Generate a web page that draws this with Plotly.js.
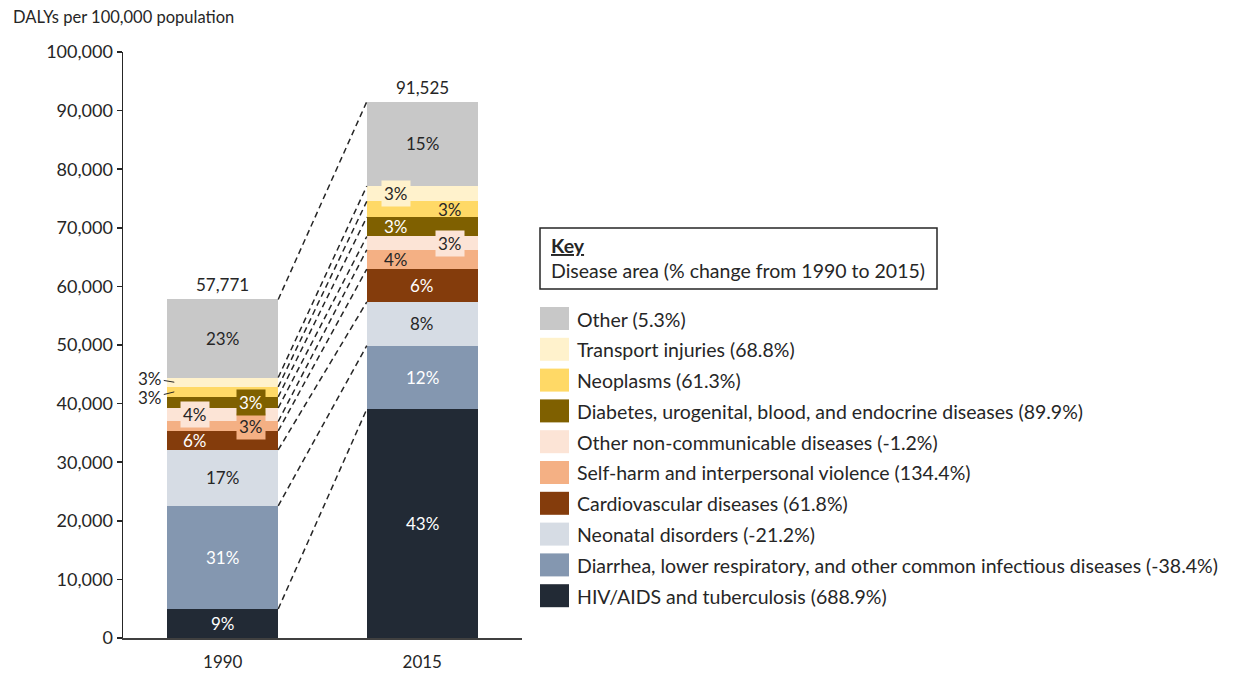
<!DOCTYPE html>
<html>
<head>
<meta charset="utf-8">
<script src="https://cdn.plot.ly/plotly-3.0.1.min.js"></script>
<style>html,body{margin:0;padding:0;background:#fff;}#chart{width:1238px;height:675px;}</style>
</head>
<body>
<div id="chart"></div>
<script>
// ---- data ----
const categories = ['1990', '2015'];
const causes = [
  'HIV/AIDS and tuberculosis',
  'Diarrhea, lower respiratory, and other common infectious diseases',
  'Neonatal disorders',
  'Cardiovascular diseases',
  'Self-harm and interpersonal violence',
  'Other non-communicable diseases',
  'Diabetes, urogenital, blood, and endocrine diseases',
  'Neoplasms',
  'Transport injuries',
  'Other'
];
const pctChange = ['688.9%', '-38.4%', '-21.2%', '61.8%', '134.4%', '-1.2%', '89.9%', '61.3%', '68.8%', '5.3%'];
const values1990 = [4950, 17600, 9550, 3250, 1600, 2300, 1900, 1700, 1600, 13321];
const values2015 = [39050, 10850, 7450, 5600, 3300, 2270, 3300, 2700, 2600, 14405];
const share1990 = ['9%', '31%', '17%', '6%', '3%', '4%', '3%', '3%', '3%', '23%'];
const share2015 = ['43%', '12%', '8%', '6%', '4%', '3%', '3%', '3%', '3%', '15%'];
const yTickVals = [0, 10000, 20000, 30000, 40000, 50000, 60000, 70000, 80000, 90000, 100000];

// ---- style ----
const colors = ['#222a35', '#8497b0', '#d6dce4', '#843c0c', '#f4b084', '#fce4d6', '#7f6000', '#ffd966', '#fff2cc', '#c8c8c8'];
const FONT = 'Lato, "Open Sans", sans-serif';
const DARK = '#262626';
const BW = 0.556;
const LABEL_SIZE = 17, LEGEND_SIZE = 19.5;
// label styles: [dx, textColor, box, arrow]
const style1990 = [
  [0, '#fff', false, null], [0, '#fff', false, null], [0, DARK, false, null],
  [-28, '#fff', false, null], [28, DARK, true, null], [-28, DARK, true, null],
  [28, '#fff', true, null], [0, DARK, false, [-24, 6]], [0, DARK, false, [-24, -4]],
  [0, DARK, false, null]
];
const style2015 = [
  [0, '#fff', false, null], [0, '#fff', false, null], [0, DARK, false, null],
  [0, '#fff', false, null], [-26, DARK, false, null], [28, DARK, true, null],
  [-26, '#fff', false, null], [28, DARK, false, null], [-26, DARK, true, null],
  [0, DARK, false, null]
];

const L = 123, T = 52, W = 399, H = 586;
const px = x => (x - L) / W;
const py = y => (T + H - y) / H;

const traces = causes.map((c, i) => ({
  type: 'bar',
  name: c,
  x: categories,
  y: [values1990[i], values2015[i]],
  marker: {color: colors[i], line: {width: 0}},
  width: BW,
  hoverinfo: 'name+y',
  showlegend: false
}));

function cum(arr) { let s = 0; return arr.map(v => (s += v)); }
const cum1990 = cum(values1990), cum2015 = cum(values2015);

const annotations = [];
const shapes = [];

function addLabels(vals, cums, shares, styles, xi) {
  vals.forEach((v, i) => {
    const mid = cums[i] - v / 2;
    const st = styles[i];
    const a = {
      x: xi, y: mid, xref: 'x', yref: 'y', text: shares[i],
      font: {family: FONT, size: LABEL_SIZE, color: st[1]},
      showarrow: false, xshift: st[0]
    };
    if (st[2]) { a.bgcolor = colors[i]; a.borderpad = 2; }
    if (st[3]) {
      a.x = xi - BW / 2 + 7 / (W / 2);
      a.showarrow = true; a.arrowhead = 0; a.arrowwidth = 1; a.arrowcolor = DARK;
      a.ax = st[3][0]; a.ay = st[3][1]; a.standoff = 0; a.xshift = 0;
    }
    annotations.push(a);
  });
}
addLabels(values1990, cum1990, share1990, style1990, 0);
addLabels(values2015, cum2015, share2015, style2015, 1);

// totals
[cum1990[cum1990.length - 1], cum2015[cum2015.length - 1]].forEach((t, xi) => {
  annotations.push({x: xi, y: t, xref: 'x', yref: 'y', text: t.toLocaleString('en-US'),
    showarrow: false, yanchor: 'bottom', yshift: 2, font: {family: FONT, size: LABEL_SIZE, color: DARK}});
});

// connector dashed lines
cum1990.forEach((c, i) => {
  shapes.push({type: 'line', xref: 'x', yref: 'y', x0: BW / 2, y0: c, x1: 1 - BW / 2, y1: cum2015[i],
    line: {color: DARK, width: 1.5, dash: '6px,4px'}});
});

// y-axis title
annotations.push({xref: 'paper', yref: 'paper', x: px(11), y: py(17), xanchor: 'left', yanchor: 'middle',
  text: 'DALYs per 100,000 population', showarrow: false, font: {family: FONT, size: 16.5, color: DARK}});

// key box
shapes.push({type: 'rect', xref: 'paper', yref: 'paper', x0: px(540), x1: px(937), y0: py(289), y1: py(228),
  line: {color: DARK, width: 1.5}, fillcolor: 'rgba(0,0,0,0)'});
annotations.push({xref: 'paper', yref: 'paper', x: px(549), y: py(245), xanchor: 'left', yanchor: 'middle',
  text: '<b><u>Key</u></b>', showarrow: false, font: {family: FONT, size: LEGEND_SIZE, color: DARK}});
annotations.push({xref: 'paper', yref: 'paper', x: px(549), y: py(270), xanchor: 'left', yanchor: 'middle',
  text: 'Disease area (% change from 1990 to 2015)', showarrow: false, font: {family: FONT, size: LEGEND_SIZE, color: DARK}});

// custom legend
const order = causes.map((c, i) => i).reverse();
order.forEach((ci, r) => {
  const top = 307 + r * 30.8;
  shapes.push({type: 'rect', xref: 'paper', yref: 'paper', x0: px(540), x1: px(569), y0: py(top + 23), y1: py(top),
    line: {width: 0}, fillcolor: colors[ci]});
  annotations.push({xref: 'paper', yref: 'paper', x: px(575), y: py(top + 12), xanchor: 'left', yanchor: 'middle',
    text: causes[ci] + ' (' + pctChange[ci] + ')', showarrow: false, font: {family: FONT, size: LEGEND_SIZE, color: DARK}});
});

const layout = {
  width: 1238, height: 675,
  margin: {l: L, r: 1238 - L - W, t: T, b: 675 - T - H, pad: 0},
  barmode: 'stack',
  paper_bgcolor: '#fff', plot_bgcolor: '#fff',
  showlegend: false,
  font: {family: FONT, color: DARK},
  xaxis: {type: 'category', range: [-0.5, 1.5], showline: true, linecolor: '#404040', linewidth: 1.5,
    ticks: '', showgrid: false, zeroline: false, fixedrange: true, ticklabelstandoff: 8,
    tickfont: {family: FONT, size: 17, color: DARK}},
  yaxis: {range: [0, 100000], tickvals: yTickVals, tickformat: ',', showline: true, linecolor: DARK, linewidth: 1.5,
    ticks: 'outside', ticklen: 5, tickwidth: 1.5, tickcolor: DARK, showgrid: false, zeroline: false,
    tickfont: {family: FONT, size: 18, color: DARK}, fixedrange: true},
  annotations: annotations,
  shapes: shapes
};

Plotly.newPlot('chart', traces, layout, {displayModeBar: false, staticPlot: true});
</script>
</body>
</html>
